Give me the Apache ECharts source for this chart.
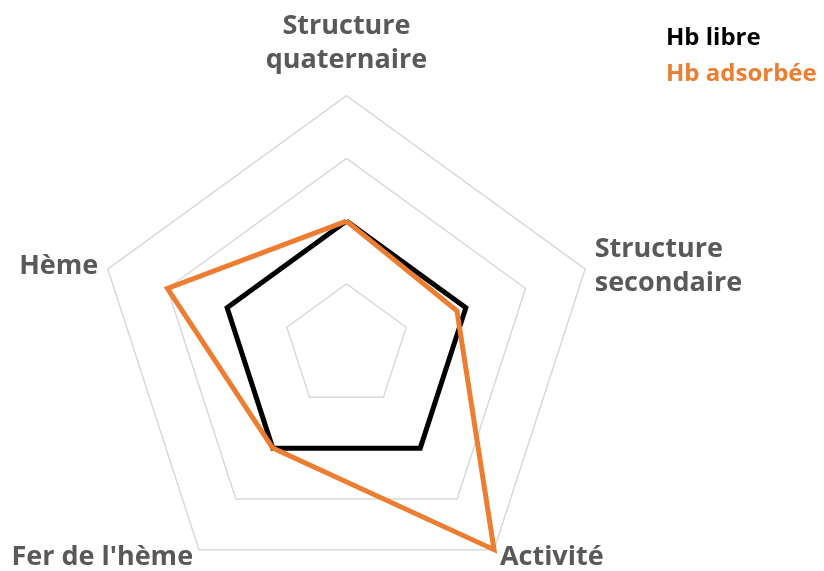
<!DOCTYPE html>
<html>
<head>
<meta charset="utf-8">
<script src="https://cdn.jsdelivr.net/npm/echarts@6/dist/echarts.min.js"></script>
<style>
  html, body { margin: 0; padding: 0; background: #fff; }
  #chart { width: 824px; height: 571px; }
</style>
</head>
<body>
<div id="chart"></div>
<script>
// axes, counter-clockwise from the top (ECharts radar order)
const axes = ['Structure\nquaternaire', 'Hème', "Fer de l'hème", 'Activité', 'Structure\nsecondaire'];
const seriesNames = ['Hb libre', 'Hb adsorbée'];
const hbLibre = [2, 2, 2, 2, 2];
const hbAdsorbee = [2, 3, 2, 4, 1.85];
const colors = ['#000000', '#ED7D31'];

const chart = echarts.init(document.getElementById('chart'));

const option = {
  animation: false,
  color: colors,
  legend: {
    orient: 'vertical',
    left: 656,
    top: 21,
    icon: 'none',
    itemWidth: 0,
    itemGap: 12,
    selectedMode: false,
    data: seriesNames.map((n, i) => ({
      name: n,
      textStyle: { color: colors[i] }
    })),
    textStyle: {
      fontFamily: 'Open Sans',
      fontWeight: 'bold',
      fontSize: 24
    }
  },
  radar: {
    center: ['42.05%', '60.7%'],
    radius: 251,
    startAngle: 90,
    shape: 'polygon',
    splitNumber: 4,
    nameGap: 10,
    indicator: axes.map(a => ({ name: a, min: 0, max: 4 })),
    axisName: {
      color: '#595959',
      fontFamily: 'Open Sans',
      fontWeight: 'bold',
      fontSize: 27,
      lineHeight: 34,
      // the top label sits a bit higher than the others
      formatter: function (name) {
        return name === axes[0] ? name + '\n{gap|}' : name;
      },
      rich: {
        gap: { fontSize: 1, lineHeight: 8 }
      }
    },
    axisLine: { show: false },
    axisTick: { show: false },
    splitArea: { show: false },
    splitLine: {
      lineStyle: { color: '#D9D9D9', width: 1.5 }
    }
  },
  series: [{
    type: 'radar',
    symbol: 'none',
    data: [
      {
        name: seriesNames[0],
        value: hbLibre,
        lineStyle: { color: colors[0], width: 5, join: 'miter' }
      },
      {
        name: seriesNames[1],
        value: hbAdsorbee,
        lineStyle: { color: colors[1], width: 5, join: 'miter' }
      }
    ]
  }]
};

chart.setOption(option);
</script>
</body>
</html>
